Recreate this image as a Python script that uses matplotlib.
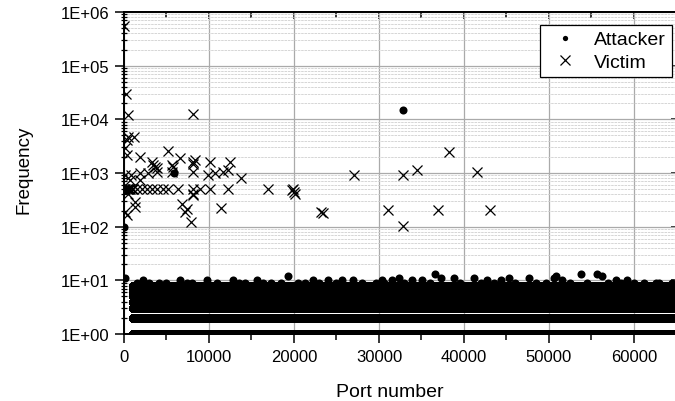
import numpy as np
import matplotlib
matplotlib.use("Agg")
import matplotlib.pyplot as plt
from matplotlib.ticker import FixedLocator, FuncFormatter, LogLocator, MultipleLocator, NullFormatter

plt.rcParams['font.family'] = ['Liberation Sans', 'DejaVu Sans']

# ---------------- data ----------------
x_ticks = [0, 10000, 20000, 30000, 40000, 50000, 60000]
y_ticks = [1, 10, 100, 1000, 10000, 100000, 1000000]

# Victim ports / frequencies
victim_ports = [25, 235, 500, 8130, 500, 1210, 315, 120, 315, 1880,
                5200, 3250, 3440, 3640, 3830, 6570, 5790, 8130, 8330, 8130,
                10090, 12440, 5600, 9900, 10680, 11650, 12240, 13810, 8130, 5600,
                820, 1880, 2850, 3830, 120, 700, 1880,
                30, 150, 300, 450, 600, 750, 900, 1050, 1480, 2070, 2660, 3250,
                3830, 4620, 5200, 6380, 8130, 8920, 10090, 12240, 17000, 19870,
                19800, 19990, 20070, 500, 8130, 8130,
                1290, 1290, 315, 6770, 7160, 7940, 7360, 11470, 120,
                27030, 32780, 34430, 38260, 41590, 23200, 23470, 31020, 32860,
                36890, 43040]
victim_freqs = [541000, 29700, 12000, 12600, 4750, 4750, 4100, 2870, 2150, 2000,
                2570, 1620, 1400, 1300, 1215, 1900, 1300, 1620, 1740, 1500,
                1620, 1570, 1400, 910, 1000, 1050, 1120, 800, 1050, 1050,
                910, 1000, 1000, 1050, 910, 735, 735,
                513, 513, 513, 513, 513, 513, 513, 513, 513, 513, 513, 513,
                513, 513, 513, 513, 513, 513, 513, 513, 513, 513,
                480, 445, 410, 410, 410, 385,
                290, 233, 163, 270, 188, 123, 216, 224, 190,
                937, 937, 1160, 2490, 1050, 188, 176, 202, 103,
                202, 202]

# Attacker: every port from 1024 to 65535 is seen at each of these frequencies
attacker_band_levels = [1, 2, 3, 4, 5, 6, 7, 8]
attacker_band_first_port = 1024
attacker_band_last_port = 65535

# Attacker: individual points above the dense band
attacker_ports = [50, 100, 5870, 32800,
                  1500, 3000, 4100, 5000, 7400, 8000, 11000, 13500, 14200, 16400,
                  17300, 18500, 20500, 21300, 23000, 25000, 28000, 29660, 30630,
                  33000, 36000, 39500, 42000, 43500, 46000, 48500, 49700, 52500,
                  54500, 57000, 58500, 60000, 61150, 62560, 63000, 64500,
                  2230, 6570, 9740, 12800, 15600, 19250, 22180, 24060, 25700,
                  26900, 30400, 31570,
                  32390, 33920, 35090, 36620, 37290, 38850, 41200, 42720, 44330,
                  45300, 47650, 50590, 51530,
                  50800, 53750, 55630, 56200, 57860, 59150]
attacker_freqs = [100, 11, 1000, 14800,
                  9, 9, 9, 9, 9, 9, 9, 9, 9, 9,
                  9, 9, 9, 9, 9, 9, 9, 9, 9,
                  9, 9, 9, 9, 9, 9, 9, 9, 9,
                  9, 9, 9, 9, 9, 9, 9, 9,
                  10, 10, 10, 10, 10, 12, 10, 10, 10,
                  10, 10, 10,
                  11, 10, 10, 13, 11, 11, 11, 10, 10,
                  11, 11, 11, 10,
                  12, 13, 13, 12, 10, 10]

# ---------------- figure ----------------
W, H = 675, 402
fig = plt.figure(figsize=(W / 100, H / 100), dpi=100)
ax = fig.add_axes([124 / W, 67 / H, 557 / W, 322 / H])
ax.set_yscale('log')
ax.set_xlim(0, 65535)
ax.set_ylim(1, 1e6)
ax.set_axisbelow(True)

band_ports = np.arange(attacker_band_first_port, attacker_band_last_port + 1)
for lvl in attacker_band_levels:
    ax.plot(band_ports, np.full(band_ports.size, lvl), ls='none', marker='o',
            ms=5.8, mew=0, color='black', label='_nolegend_')

ax.plot(attacker_ports, attacker_freqs, ls='none', marker='o', ms=5.8, mew=0,
        color='black', label='Attacker')
ax.plot(victim_ports, victim_freqs, ls='none', marker='x', ms=7.5, mew=0.9,
        color='black', label='Victim')

# ticks
ax.xaxis.set_major_locator(FixedLocator(x_ticks))
ax.xaxis.set_minor_locator(MultipleLocator(5000))
ax.yaxis.set_major_locator(FixedLocator(y_ticks))
ax.yaxis.set_minor_locator(LogLocator(base=10, subs=range(2, 10), numticks=100))
ax.yaxis.set_minor_formatter(NullFormatter())
ax.yaxis.set_major_formatter(FuncFormatter(lambda v, p: "1E+%02d" % int(round(np.log10(v)))))
ax.tick_params(axis='both', which='major', labelsize=12, direction='out', length=6.5,
               width=1.1, color='black', pad=4)
ax.tick_params(axis='x', which='minor', direction='out', length=4, width=1.1)
ax.tick_params(axis='y', which='minor', direction='inout', length=5, width=0.9)

# grid
ax.grid(which='major', axis='both', color='#aaaaaa', lw=0.9, ls='-')
ax.grid(which='minor', axis='y', color='#d0d0d0', lw=0.6, ls=(0, (3, 1)))

for s in ax.spines.values():
    s.set_linewidth(1.4)
    s.set_color('black')

# top / right inward ticks
top = ax.secondary_xaxis('top')
top.xaxis.set_major_locator(FixedLocator(x_ticks))
top.xaxis.set_minor_locator(MultipleLocator(5000))
top.tick_params(which='major', direction='in', length=5, width=1.1, labeltop=False)
top.tick_params(which='minor', direction='in', length=4, width=1.1)
top.spines['top'].set_linewidth(1.4)
right = ax.secondary_yaxis('right')
right.yaxis.set_major_locator(FixedLocator(y_ticks))
right.yaxis.set_minor_locator(LogLocator(base=10, subs=range(2, 10), numticks=100))
right.yaxis.set_minor_formatter(NullFormatter())
right.tick_params(which='major', direction='in', length=7, width=1.1, labelright=False)
right.tick_params(which='minor', direction='in', length=4, width=0.9)

# labels
ax.set_xlabel('Port number', fontsize=14, va='baseline')
ax.xaxis.set_label_coords(0.478, -0.1925)
ax.set_ylabel('Frequency', fontsize=13.5, va='center')
ax.yaxis.set_label_coords(-0.18, 0.512)

leg = ax.legend(loc='upper right', bbox_to_anchor=(0.984, 0.96), borderaxespad=0,
                fontsize=14, frameon=True, fancybox=False, edgecolor='black',
                framealpha=1, handlelength=2.0, handletextpad=0.5, borderpad=0.3,
                labelspacing=0.25)
leg.get_frame().set_linewidth(0.9)
leg.legend_handles[0].set_markersize(3.8)

fig.savefig('out.png', dpi=100)
